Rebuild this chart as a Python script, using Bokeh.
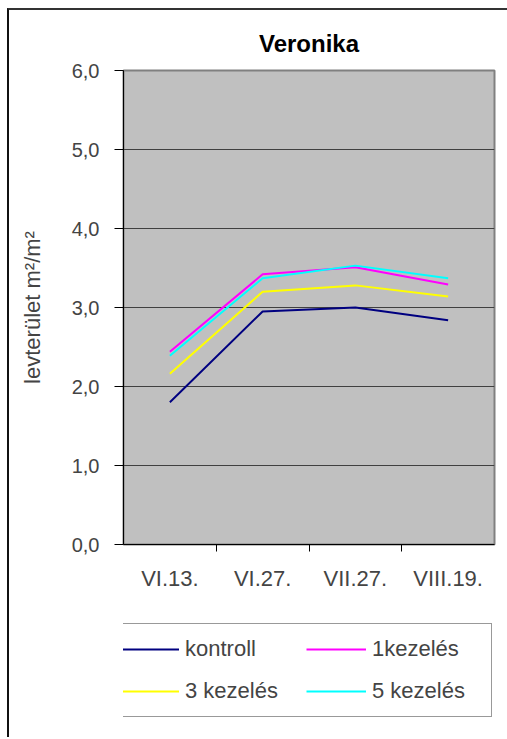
from bokeh.plotting import figure
from bokeh.layouts import column
from bokeh.models import (Range1d, FactorRange, CategoricalAxis, LinearAxis, FixedTicker, Legend,
                          LegendItem, ColumnDataSource)
from bokeh.embed import file_html
from bokeh.resources import INLINE

categories = ["VI.13.", "VI.27.", "VII.27.", "VIII.19."]
kontroll = [1.80, 2.95, 3.00, 2.84]
kezeles1 = [2.44, 3.42, 3.51, 3.29]
kezeles3 = [2.16, 3.20, 3.28, 3.14]
kezeles5 = [2.39, 3.37, 3.53, 3.37]
series_names = ["kontroll", "1kezelés", "3 kezelés", "5 kezelés"]
series_colors = ["#000080", "#FF00FF", "#FFFF00", "#00FFFF"]
y_ticks = [0, 1, 2, 3, 4, 5, 6]
series_values = [kontroll, kezeles1, kezeles3, kezeles5]

p = figure(width=498, height=600, x_range=categories, y_range=Range1d(0, 6),
           x_axis_location=None, y_axis_location=None,
           output_backend="svg", toolbar_location=None,
           min_border_left=114, min_border_top=60, min_border_right=13, min_border_bottom=66)
p.x_range.range_padding = 0
p.x_range.factor_padding = 0

p.background_fill_color = "#C0C0C0"
p.border_fill_color = "white"
p.outline_line_color = "#808080"
p.outline_line_width = 2

p.title.text = "Veronika"
p.title.align = "center"
p.title.vertical_align = "top"
p.title.text_font = "Liberation Sans"
p.title.text_font_size = "24px"
p.title.text_font_style = "bold"
p.title.text_color = "black"
p.title.offset = 0
p.title.standoff = 24

# y axis
yax = LinearAxis(ticker=FixedTicker(ticks=y_ticks, minor_ticks=[]),
                 major_label_overrides={t: f"{t},0" for t in y_ticks})
yax.axis_label = "levterület m²/m²"
yax.axis_label_text_font = "Liberation Sans"
yax.axis_label_text_font_size = "22px"
yax.axis_label_text_font_style = "normal"
yax.axis_label_standoff = 24
yax.major_label_text_font = "Liberation Sans"
yax.major_label_text_font_size = "20px"
yax.major_label_standoff = 15
yax.major_tick_out = 9
yax.major_tick_in = 0
yax.axis_line_color = "black"
yax.major_tick_line_color = "black"
p.add_layout(yax, "left")

# boundary ticks: helper factor range whose factor centres sit on category edges
boundaries = ["b%d" % i for i in range(len(categories) + 1)]
p.extra_x_ranges = {"edges": FactorRange(factors=boundaries, factor_padding=0,
                                         range_padding=-0.5, range_padding_units="absolute")}
tax = CategoricalAxis(x_range_name="edges")
tax.major_tick_out = 7
tax.major_tick_in = 0
tax.major_tick_line_color = "black"
tax.axis_line_color = "black"
tax.major_label_text_font_size = "1px"
tax.major_label_text_color = None
tax.major_label_standoff = 0
p.add_layout(tax, "below")

xax = CategoricalAxis()
xax.major_tick_line_color = None
xax.major_tick_out = 0
xax.major_tick_in = 0
xax.axis_line_color = None
xax.major_label_text_font = "Liberation Sans"
xax.major_label_text_font_size = "22px"
xax.major_label_standoff = 14
p.add_layout(xax, "below")

p.xgrid.visible = False
p.ygrid.ticker = FixedTicker(ticks=y_ticks)
p.ygrid.grid_line_color = "#404040"
p.ygrid.grid_line_width = 1

for vals, col in zip(series_values, series_colors):
    src = ColumnDataSource(dict(x=categories, y=vals))
    p.line("x", "y", source=src, line_color=col, line_width=2)

# legend panel (separate figure below the chart; its lines lie outside its visible range)
lf = figure(width=498, height=127, x_range=categories, y_range=Range1d(100, 101),
            x_axis_location=None, y_axis_location=None,
            output_backend="svg", toolbar_location=None,
            min_border_left=0, min_border_right=0, min_border_top=0, min_border_bottom=0)
lf.outline_line_color = None
lf.background_fill_color = "white"
lf.xgrid.visible = False
lf.ygrid.visible = False
leg_renderers = []
for vals, col in zip(series_values, series_colors):
    src = ColumnDataSource(dict(x=categories, y=vals))
    leg_renderers.append(lf.line("x", "y", source=src, line_color=col, line_width=2))

legend = Legend(items=[LegendItem(label=n, renderers=[r]) for n, r in zip(series_names, leg_renderers)],
                location=(-15, 20), ncols=2, orientation="horizontal")
legend.border_line_color = "#333333"
legend.border_line_width = 1
legend.background_fill_color = "white"
legend.background_fill_alpha = 1
legend.label_text_font = "Liberation Sans"
legend.label_text_font_size = "22px"
legend.glyph_width = 60
legend.glyph_height = 20
legend.label_height = 30
legend.label_width = 109
legend.label_standoff = 6
legend.spacing = 12
legend.padding = 10
legend.margin = 0
lf.add_layout(legend, "center")

layout = column(p, lf, spacing=0)
layout.styles = {"margin-left": "7px", "margin-top": "8px",
                 "border-top": "2px solid #333333", "border-left": "2px solid #111111"}

open("out.html", "w").write(file_html(layout, INLINE))
